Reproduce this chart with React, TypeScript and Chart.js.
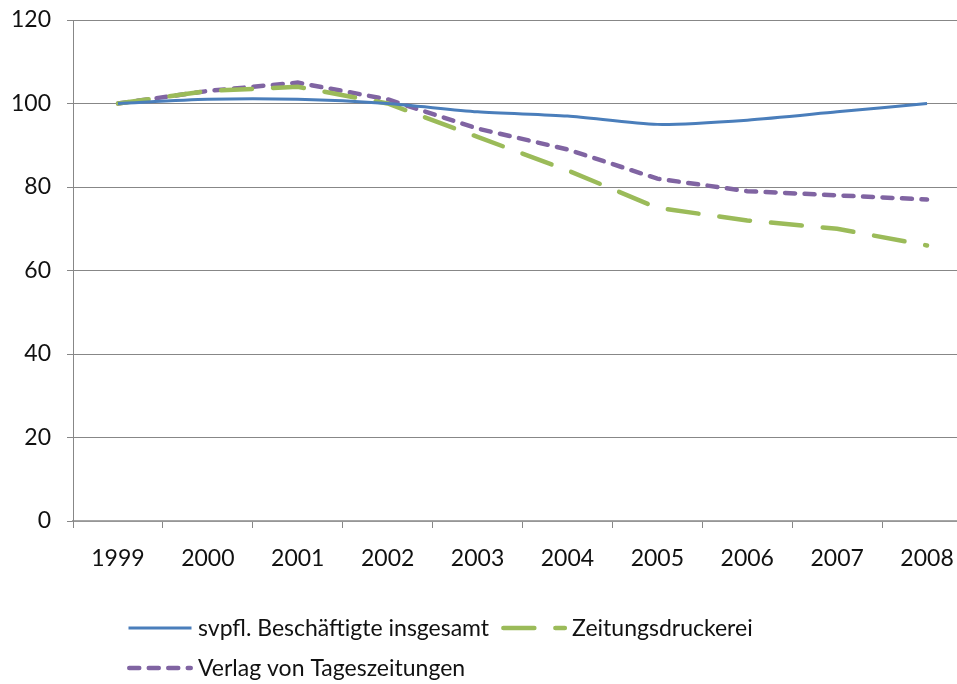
import React, { useEffect, useRef } from "react";
import { Chart, registerables } from "chart.js";

Chart.register(...registerables);

const categories = ["1999", "2000", "2001", "2002", "2003", "2004", "2005", "2006", "2007", "2008"];
const svpflValues = [100, 101, 101, 100, 98, 97, 95, 96, 98, 100];
const druckereiValues = [100, 103, 104, 100, 92, 84, 75, 72, 70, 66];
const verlagValues = [100, 103, 105, 101, 94, 89, 82, 79, 78, 77];
const seriesNames = ["svpfl. Beschäftigte insgesamt", "Zeitungsdruckerei", "Verlag von Tageszeitungen"];

const FONT = "Lato, 'Open Sans', sans-serif";
const BLUE = "#4a7ebb";
const GREEN = "#9bbb59";
const PURPLE = "#8064a2";

const legendPlugin = {
  id: "customLegend",
  afterDraw(chart: any) {
    const ctx = chart.ctx as CanvasRenderingContext2D;
    const ds = chart.data.datasets;
    ctx.save();
    ctx.font = `23px ${FONT}`;
    ctx.textBaseline = "middle";
    ctx.fillStyle = "#111";
    const sampleLen = 66;
    const drawItem = (i: number, x: number, y: number) => {
      const d = ds[i];
      ctx.save();
      ctx.strokeStyle = d.borderColor;
      ctx.lineWidth = d.borderWidth;
      ctx.lineCap = d.borderCapStyle || "butt";
      ctx.setLineDash(d.borderDash || []);
      ctx.beginPath();
      ctx.moveTo(x + ctx.lineWidth / 2, y);
      ctx.lineTo(x + sampleLen - ctx.lineWidth / 2, y);
      ctx.stroke();
      ctx.restore();
      ctx.fillText(d.label, x + sampleLen + 5, y + 1);
      return x + sampleLen + 5 + ctx.measureText(d.label).width + 12;
    };
    const startX = 127;
    const x = drawItem(0, startX, 628);
    drawItem(1, x, 628);
    drawItem(2, startX, 668);
    ctx.restore();
  },
};

export default function App() {
  const canvasRef = useRef<HTMLCanvasElement | null>(null);

  useEffect(() => {
    if (!canvasRef.current) return;
    const chart = new Chart(canvasRef.current, {
      type: "line",
      data: {
        labels: categories,
        datasets: [
          {
            label: seriesNames[0],
            data: svpflValues,
            borderColor: BLUE,
            borderWidth: 3,
            pointRadius: 0,
            tension: 0.25,
            fill: false,
          },
          {
            label: seriesNames[1],
            data: druckereiValues,
            borderColor: GREEN,
            borderWidth: 4.5,
            borderDash: [31, 21],
            borderCapStyle: "round",
            pointRadius: 0,
            tension: 0,
            fill: false,
          },
          {
            label: seriesNames[2],
            data: verlagValues,
            borderColor: PURPLE,
            borderWidth: 4.5,
            borderDash: [10, 9.5],
            borderCapStyle: "round",
            pointRadius: 0,
            tension: 0,
            fill: false,
          },
        ],
      },
      options: {
        responsive: false,
        animation: false,
        devicePixelRatio: 1,
        layout: { padding: { left: 0, top: 20, right: 8, bottom: 0 } },
        plugins: {
          legend: { display: false },
          tooltip: { enabled: false },
        },
        scales: {
          x: {
            offset: true,
            grid: {
              offset: true,
              drawOnChartArea: false,
              drawTicks: true,
              tickLength: 7,
              color: "#878787",
            },
            border: { display: true, color: "#a6a6a6", width: 1.5 },
            ticks: {
              font: { family: FONT, size: 23 },
              color: "#111",
              padding: 17,
              maxRotation: 0,
              autoSkip: false,
            },
            afterFit(scale: any) {
              scale.height = 163;
            },
          },
          y: {
            min: 0,
            max: 120,
            ticks: {
              stepSize: 20,
              font: { family: FONT, size: 23 },
              color: "#111",
              padding: 16,
            },
            grid: {
              color: "#878787",
              lineWidth: 1,
              drawTicks: true,
              tickLength: 6,
            },
            border: { display: true, color: "#878787", width: 1 },
            afterFit(scale: any) {
              scale.width = 73;
              scale.paddingTop = 0;
              scale.paddingBottom = 0;
            },
          },
        },
      },
      plugins: [legendPlugin],
    });
    return () => chart.destroy();
  }, []);

  return (
    <div
      style={{
        position: "fixed",
        left: 0,
        top: 0,
        width: 957,
        height: 684,
        overflow: "hidden",
        background: "#fff",
      }}
    >
      <canvas ref={canvasRef} width={980} height={684} style={{ display: "block" }} />
    </div>
  );
}
